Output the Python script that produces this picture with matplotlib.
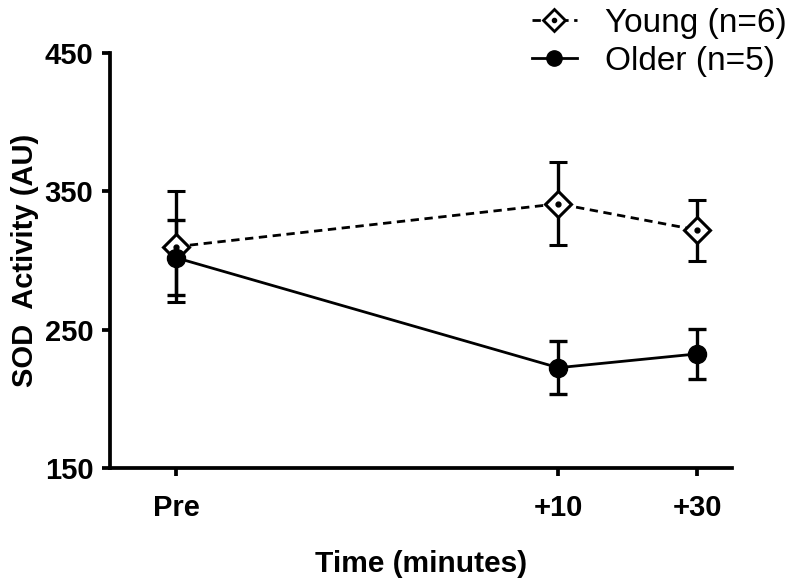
#!/usr/bin/env python3
"""SOD activity before and after exercise, young vs older."""

import matplotlib
matplotlib.use("Agg")
import matplotlib.pyplot as plt
from matplotlib.lines import Line2D

plt.rcParams["font.family"] = ["Liberation Sans", "DejaVu Sans"]

time_labels = ["Pre", "+10", "+30"]
time_pos = [-45, 10, 30]

young_mean = [310, 341, 322]
young_sem = [40, 30, 22]
older_mean = [302, 222.5, 232.5]
older_sem = [27, 19, 18]

fig = plt.figure(figsize=(7.89, 5.80), dpi=100)
ax = fig.add_axes([0.1394, 0.1931, 0.7884, 0.7155])

dash = (0, (3, 2))
ax.errorbar(time_pos, young_mean, yerr=young_sem, color="black", lw=2,
            ls=dash, marker="D", ms=13.5, mfc="white", mec="black", mew=2.2,
            elinewidth=2.4, capsize=6.5, capthick=2.4, zorder=3)
ax.plot(time_pos, young_mean, ls="none", marker="o", ms=3.5, color="black", zorder=4)
ax.errorbar(time_pos, older_mean, yerr=older_sem, color="black", lw=2,
            ls="-", marker="o", ms=13, mfc="black", mec="black",
            elinewidth=2.4, capsize=6.5, capthick=2.4, zorder=3)

ax.set_xlim(-54.5, 35)
ax.set_ylim(150, 450)
ax.set_xticks(time_pos)
ax.set_xticklabels(time_labels)
ax.set_yticks([150, 250, 350, 450])

for side in ["top", "right"]:
    ax.spines[side].set_visible(False)
for side in ["left", "bottom"]:
    ax.spines[side].set_linewidth(2.7)
ax.tick_params(width=2.7, length=6, labelsize=21)
ax.tick_params(axis="y", pad=6)
ax.tick_params(axis="x", pad=13)
for lab in ax.get_xticklabels() + ax.get_yticklabels():
    lab.set_fontweight("bold")

ax.set_xlabel("Time (minutes)", fontsize=21.5, fontweight="bold", labelpad=20)
ax.set_ylabel("SOD  Activity (AU)", fontsize=21, fontweight="bold", labelpad=4)

young_handle = (
    Line2D([], [], color="black", lw=2, ls=dash, marker="D", ms=11,
           mfc="white", mec="black", mew=2),
    Line2D([], [], ls="none", marker="o", ms=3, color="black"),
)
older_handle = Line2D([], [], color="black", lw=2, ls="-", marker="o", ms=11,
                      mfc="black", mec="black")
fig.legend([young_handle, older_handle], ["Young (n=6)", "Older (n=5)"],
           loc="upper right", bbox_to_anchor=(0.997, 0.986), frameon=False,
           fontsize=24, handlelength=1.35, handletextpad=0.85,
           labelspacing=0.2, borderpad=0, borderaxespad=0)

fig.savefig("out.png", dpi=100)
